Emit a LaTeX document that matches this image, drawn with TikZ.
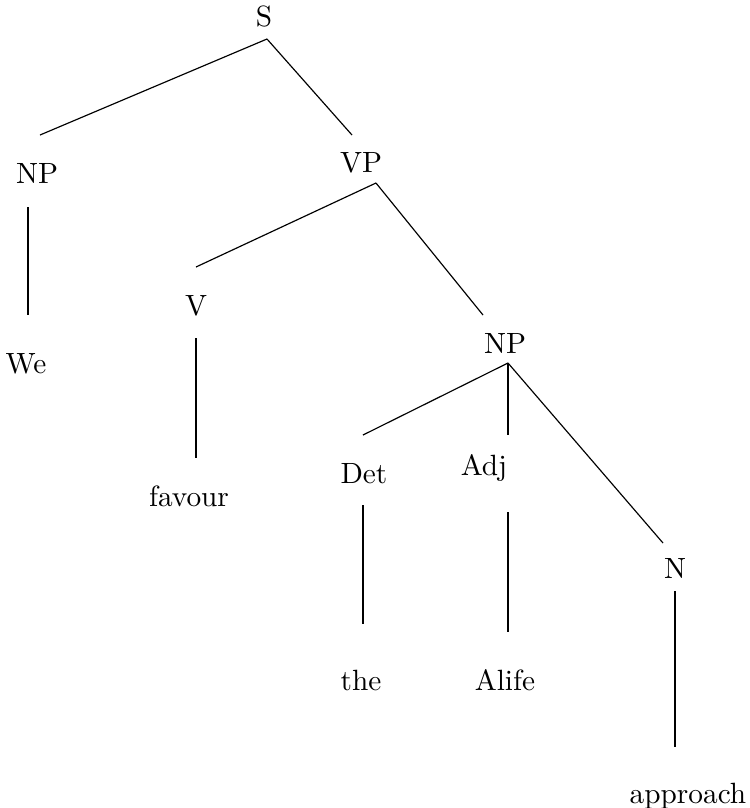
\documentclass[tikz,border=0pt]{standalone}
\usepackage{amsmath}
\usepackage{amssymb}
\usepackage{tikz}

\tikzset{word/.style={anchor=base,inner sep=0pt}}

\begin{document}
\begin{tikzpicture}[x=0.012cm,y=-0.012cm]
	\useasboundingbox (0,0) rectangle (750,808);

	\node[word] (s) at (264,26) {S};
	\node[word] (np1) at (37,183) {NP};
	\node[word] (we) at (26,373) {We};
	\node[word] (vp) at (361,172) {VP};
	\node[word] (v) at (196,315) {V};
	\node[word] (favour) at (189,506) {favour};
	\node[word] (np2) at (505,353) {NP};
	\node[word] (det) at (364,483) {Det};
	\node[word] (adj) at (484,475) {Adj};
	\node[word] (n) at (675,578) {N};
	\node[word] (the) at (361,690) {the};
	\node[word] (alife) at (505,690) {Alife};
	\node[word] (approach) at (688,803) {approach};

	% where the branches meet the labels
	\coordinate (s-dn) at (267,39);
	\coordinate (np1-up) at (40,135);
	\coordinate (np1-dn) at (28,207);
	\coordinate (we-up) at (28,315);
	\coordinate (vp-up) at (352,135);
	\coordinate (vp-dn) at (376,183);
	\coordinate (v-up) at (196,267);
	\coordinate (v-dn) at (196,338);
	\coordinate (favour-up) at (196,458);
	\coordinate (np2-up) at (483,315);
	\coordinate (np2-dn) at (508,363);
	\coordinate (det-up) at (363,435);
	\coordinate (det-dn) at (363,505);
	\coordinate (the-up) at (363,624);
	\coordinate (adj-up) at (508,435);
	\coordinate (adj-dn) at (508,512);
	\coordinate (alife-up) at (508,632);
	\coordinate (n-up) at (663,543);
	\coordinate (n-dn) at (675,591);
	\coordinate (approach-up) at (675,747);

	\draw (s-dn) -- (np1-up);
	\draw (s-dn) -- (vp-up);
	\draw (np1-dn) -- (we-up);
	\draw (vp-dn) -- (v-up);
	\draw (vp-dn) -- (np2-up);
	\draw (v-dn) -- (favour-up);
	\draw (np2-dn) -- (det-up);
	\draw (np2-dn) -- (adj-up);
	\draw (np2-dn) -- (n-up);
	\draw (det-dn) -- (the-up);
	\draw (adj-dn) -- (alife-up);
	\draw (n-dn) -- (approach-up);
\end{tikzpicture}
\end{document}
